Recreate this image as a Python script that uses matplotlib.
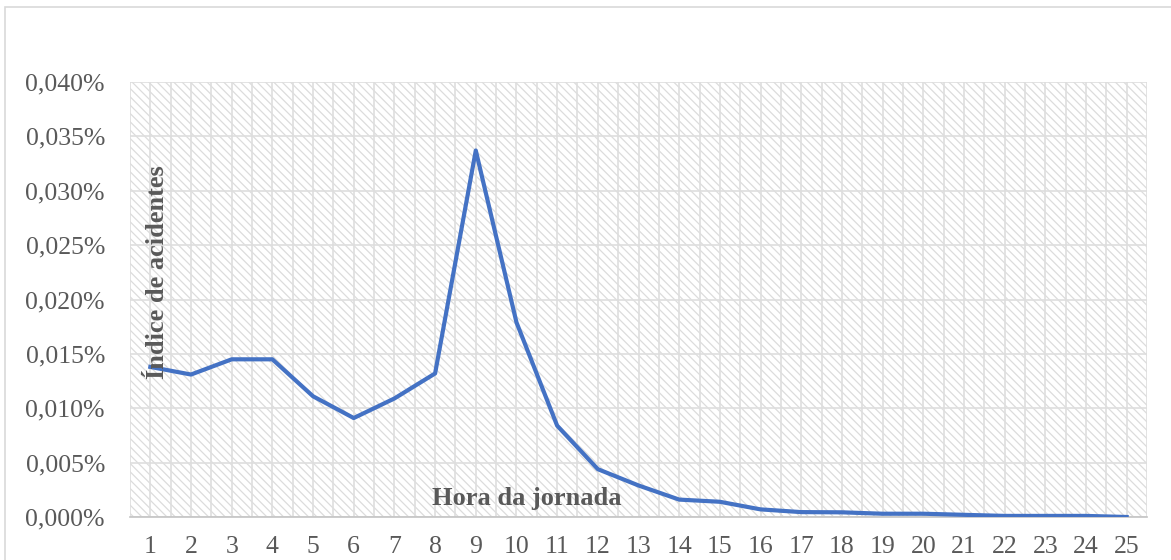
import matplotlib
matplotlib.use("Agg")
import matplotlib.pyplot as plt
from matplotlib.patches import Rectangle
from matplotlib.ticker import FixedLocator, FuncFormatter

hours = list(range(1, 26))
index_pct = [0.0138, 0.0131, 0.0145, 0.0145, 0.0111, 0.0091, 0.0109, 0.0132,
             0.0337, 0.0179, 0.0084, 0.0044, 0.0029, 0.0016, 0.0014, 0.0007,
             0.00045, 0.00043, 0.0003, 0.0003, 0.0002, 0.0001, 0.0001, 0.0001, 0.0000]
y_ticks = [0.000, 0.005, 0.010, 0.015, 0.020, 0.025, 0.030, 0.035, 0.040]

plt.rcParams['font.family'] = ['Liberation Serif', 'DejaVu Serif']
plt.rcParams['hatch.linewidth'] = 0.9
W, H = 1171, 560
fig = plt.figure(figsize=(W/100, H/100), dpi=100)

# outer chart frame
fig.patches.append(Rectangle((5/W, -0.1), 1.2, 1 - 7/H + 0.1, transform=fig.transFigure,
                             facecolor='none', edgecolor='#d9d9d9', lw=1.2))

left, right, top, bottom = 130, 1147, 82, 517
ax = fig.add_axes([left/W, 1 - bottom/H, (right-left)/W, (bottom-top)/H])
ax.set_facecolor('white')
ax.add_patch(Rectangle((0, 0), 1, 1, transform=ax.transAxes, facecolor='white',
                       edgecolor='#dcdcdc', hatch='\\' * 4, lw=0, zorder=0))

ax.plot(hours, index_pct, color='#4472C4', lw=3, solid_joinstyle='round', zorder=3)

ax.set_xlim(0.5, 25.5)
ax.set_ylim(0, 0.040)
ax.yaxis.set_major_locator(FixedLocator(y_ticks))
ax.yaxis.set_major_formatter(FuncFormatter(lambda v, p: f"{v:.3f}%".replace('.', ',')))
ax.set_xticks(hours)
ax.set_xticks([h + 0.5 for h in [0] + hours], minor=True)
ax.grid(True, which='major', color='#dedede', lw=1.2, zorder=1)
ax.grid(True, which='minor', axis='x', color='#dedede', lw=1.2, zorder=1)
ax.tick_params(which='both', length=0)
ax.tick_params(axis='y', pad=18, labelsize=18.5, labelcolor='#595959')
ax.tick_params(axis='x', pad=14, labelsize=18.5, labelcolor='#595959')
for s in ['left', 'top', 'right']:
    ax.spines[s].set_visible(False)
ax.spines['bottom'].set_color('#c4c4c4')
ax.spines['bottom'].set_linewidth(1.2)
ax.set_axisbelow(True)

fig.text(527/W, 1 - 498/H, 'Hora da jornada', ha='center', va='center',
         fontsize=19, fontweight='bold', color='#595959')
fig.text(157/W, 1 - 272/H, 'Índice de acidentes', ha='center', va='center',
         rotation=90, fontsize=19, fontweight='bold', color='#595959')

fig.savefig('out.png', dpi=100)
